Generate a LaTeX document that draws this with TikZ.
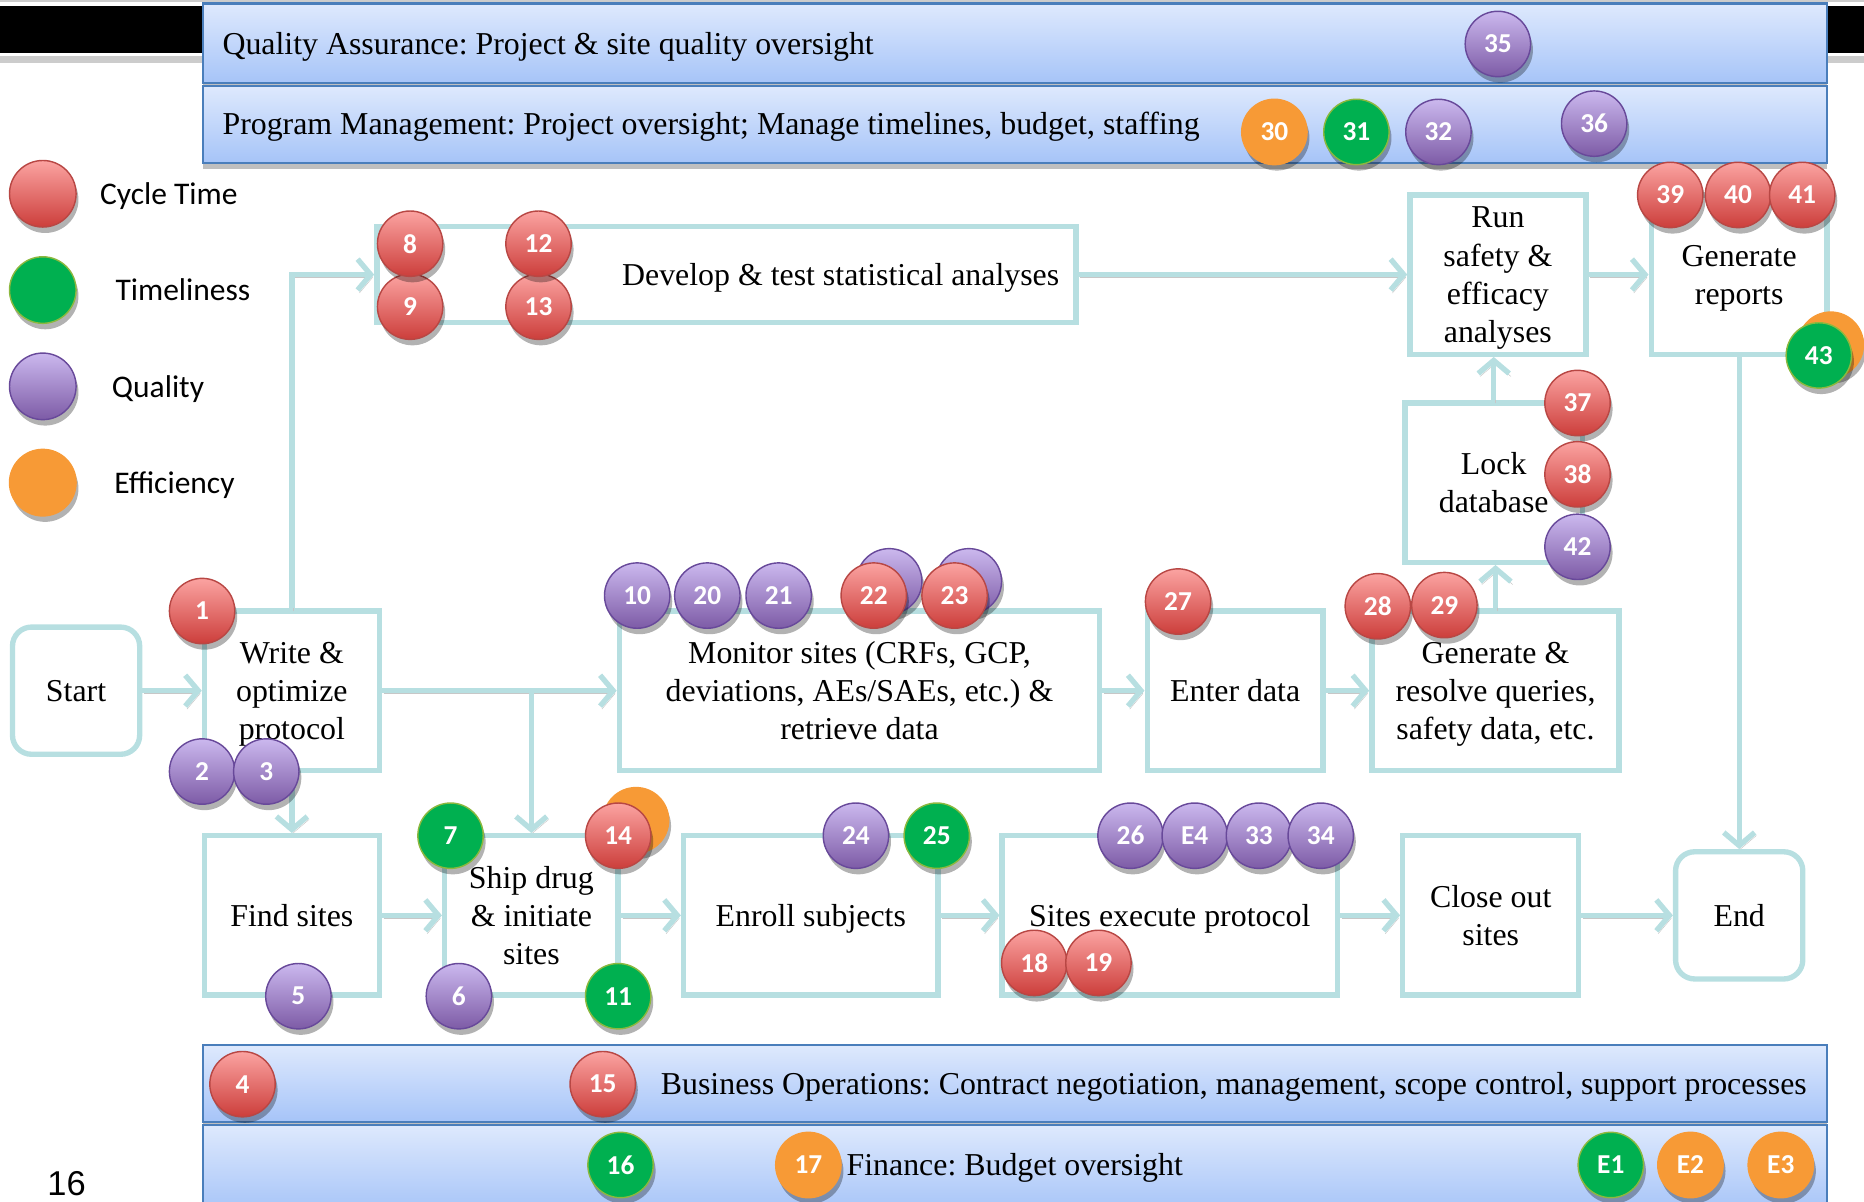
\documentclass[tikz,border=0pt]{standalone}
\usepackage{fontspec}
\setmainfont{Liberation Serif}
\newfontfamily\calibri{Carlito}
\newfontfamily\arial{Liberation Sans}
\usetikzlibrary{arrows.meta,shadows}
\definecolor{boxline}{HTML}{B7DFE1}
\definecolor{bandtop}{HTML}{DEE9FD}
\definecolor{bandbot}{HTML}{A6C4F8}
\definecolor{bandline}{HTML}{4A7EBB}
\definecolor{redtop}{HTML}{FBA3A1}
\definecolor{redbot}{HTML}{CC3E3B}
\definecolor{redline}{HTML}{B84744}
\definecolor{purtop}{HTML}{CBB8EE}
\definecolor{purbot}{HTML}{7D5BA6}
\definecolor{purline}{HTML}{68499A}
\definecolor{grnfill}{HTML}{00B050}
\definecolor{grnline}{HTML}{8CB83E}
\definecolor{orgfill}{HTML}{F79A36}
\frenchspacing

\begin{document}
\begin{tikzpicture}[x=1pt,y=-1pt,
  every node/.style={font=\fontsize{26.8}{32}\selectfont},
  box/.style={draw=boxline, line width=4.5pt, fill=white, align=center, inner sep=2pt, minimum height=134, text depth=-4pt},
  term/.style={box, rounded corners=16pt, minimum width=107, minimum height=107},
  band/.style={draw=bandline, line width=1.8pt, top color=bandtop, bottom color=bandbot, minimum width=1366, inner sep=0pt,
    drop shadow={shadow xshift=0pt, shadow yshift=-5pt, opacity=0.25, fill=black}},
  conn/.style={draw=boxline, line width=4.5pt, -{Straight Barb[length=11pt,width=26pt]},
    preaction={draw=black!22, transform canvas={shift={(1.5pt,-2.5pt)}}}},
  badge/.style={circle, minimum size=55, inner sep=0pt, line width=1.2pt, text=white,
    font=\calibri\bfseries\fontsize{23}{23}\selectfont,
    drop shadow={shadow xshift=2pt, shadow yshift=-5pt, opacity=0.3, fill=black}},
  cycle/.style={badge, draw=redline, top color=redtop, bottom color=redbot},
  qual/.style={badge, draw=purline, top color=purtop, bottom color=purbot},
  timely/.style={badge, draw=grnline, fill=grnfill},
  effic/.style={badge, draw=orgfill, fill=orgfill},
  legend/.style={anchor=west, inner sep=0pt, font=\calibri\fontsize{26.5}{32}\selectfont},
  bandtext/.style={inner sep=0pt}]
   \useasboundingbox (0,0) rectangle (1568,1011);
   \fill[black!20] (0,0) rectangle (1568,2);
   \fill[black] (0,5) rectangle (1568,45);
   \fill[black!20] (0,47) rectangle (1568,53);

   \node[band, minimum height=67] (qa) at (854,36.5) {};
   \node[band, minimum height=65] (pm) at (854,104.5) {};
   \node[band, minimum height=65] (bizops) at (854,911.5) {};
   \node[band, minimum height=74] (finance) at (854,983) {};
   \node[bandtext, anchor=west] (qatxt) at (187,39.5) {Quality Assurance: Project \& site quality oversight};
   \node[bandtext, anchor=west] (pmtxt) at (187,106.5) {Program Management: Project oversight; Manage timelines, budget, staffing};
   \node[bandtext, anchor=east] (bizopstxt) at (1520,914.5) {Business Operations: Contract negotiation, management, scope control, support processes};
   \node[bandtext, anchor=west] (financetxt) at (712,982) {Finance: Budget oversight};

   \node[cycle, minimum size=56] (keycycle) at (36,163) {};
   \node[legend] (keycycletxt) at (84,165) {Cycle Time};
   \node[timely, minimum size=56] (keytimely) at (36,244) {};
   \node[legend] (keytimelytxt) at (97,244) {Timeliness};
   \node[qual, minimum size=56] (keyqual) at (36,325) {};
   \node[legend] (keyqualtxt) at (94,327) {Quality};
   \node[effic, minimum size=56] (keyeffic) at (36,406) {};
   \node[legend] (keyeffictxt) at (96,408) {Efficiency};
   \node[anchor=base, inner sep=0pt, font=\arial\fontsize{29}{29}\selectfont] (pagenum) at (56,1006) {16};

   \node[term] (start) at (64,581) {Start};
   \node[box, minimum width=147] (write) at (245.5,581) {Write \&\\optimize\\protocol};
   \node[box, minimum height=81, text width=560, align=flush right, inner sep=14pt] (develop) at (611,231) {Develop \& test statistical analyses};
   \node[box, minimum width=148] (run) at (1260,231) {Run\\safety \&\\efficacy\\analyses};
   \node[box, minimum width=148] (reports) at (1463,231) {Generate\\reports};
   \node[box, minimum width=149] (lock) at (1256.5,406) {Lock\\database};
   \node[box, minimum width=404] (monitor) at (723,581) {Monitor sites (CRFs, GCP,\\deviations, AEs/SAEs, etc.) \&\\retrieve data};
   \node[box, minimum width=148] (enter) at (1039,581) {Enter data};
   \node[box, minimum width=208] (resolve) at (1258,581) {Generate \&\\resolve queries,\\safety data, etc.};
   \node[box, minimum width=147] (find) at (245.5,770) {Find sites};
   \node[box, minimum width=146] (ship) at (447,770) {Ship drug\\\& initiate\\sites};
   \node[box, minimum width=214] (enroll) at (682,770) {Enroll subjects};
   \node[box, minimum width=282] (execute) at (984,770) {Sites execute protocol};
   \node[box, minimum width=148] (closeout) at (1254,770) {Close out\\sites};
   \node[term] (end) at (1463,770) {End};

   \draw[conn] (start) -- (write);
   \draw[conn] (write) -- (monitor);
   \draw[conn] (write.east -| ship.north) -- (ship.north);
   \draw[conn] (write) -- (find);
   \draw[conn] (write.north) |- (develop.west);
   \draw[conn] (find) -- (ship);
   \draw[conn] (ship) -- (enroll);
   \draw[conn] (enroll) -- (execute);
   \draw[conn] (execute) -- (closeout);
   \draw[conn] (closeout) -- (end);
   \draw[conn] (monitor) -- (enter);
   \draw[conn] (enter) -- (resolve);
   \draw[conn] (resolve.north) -- (resolve.north |- lock.south);
   \draw[conn] (lock.north) -- (lock.north |- run.south);
   \draw[conn] (develop) -- (run);
   \draw[conn] (run) -- (reports);
   \draw[conn] (reports) -- (end);

   \node[effic] (b14x) at (535,690) {};
   \node[qual] (b22x) at (748,489) {};
   \node[qual] (b23x) at (815,489) {};
   \node[effic] (b43x) at (1540,290) {};

   \node[cycle] (b1) at (170,514) {1};
   \node[qual] (b2) at (170,649) {2};
   \node[qual] (b3) at (224,649) {3};
   \node[cycle] (b4) at (204,912) {4};
   \node[qual] (b5) at (251,838) {5};
   \node[qual] (b6) at (386,838) {6};
   \node[timely] (b7) at (379,703) {7};
   \node[cycle] (b9) at (345,258) {9};
   \node[cycle] (b13) at (453,258) {13};
   \node[cycle] (b8) at (345,205) {8};
   \node[cycle] (b12) at (453,205) {12};
   \node[qual] (b10) at (536,501) {10};
   \node[timely] (b11) at (520,838) {11};
   \node[cycle] (b14) at (520,703) {14};
   \node[cycle] (b15) at (507,912) {15};
   \node[timely] (b16) at (522,980) {16};
   \node[effic] (b17) at (680,980) {17};
   \node[cycle] (b18) at (870,810) {18};
   \node[cycle] (b19) at (924,810) {19};
   \node[qual] (b20) at (595,501) {20};
   \node[qual] (b21) at (655,501) {21};
   \node[cycle] (b22) at (735,501) {22};
   \node[cycle] (b23) at (803,501) {23};
   \node[qual] (b24) at (720,703) {24};
   \node[timely] (b25) at (788,703) {25};
   \node[qual] (b26) at (951,703) {26};
   \node[qual] (be4) at (1005,703) {E4};
   \node[qual] (b33) at (1059,703) {33};
   \node[qual] (b34) at (1111,703) {34};
   \node[cycle] (b27) at (991,506) {27};
   \node[cycle] (b28) at (1159,510) {28};
   \node[cycle] (b29) at (1215,509) {29};
   \node[effic] (b30) at (1072,111) {30};
   \node[timely] (b31) at (1141,111) {31};
   \node[qual] (b32) at (1210,111) {32};
   \node[qual] (b35) at (1260,37) {35};
   \node[qual] (b36) at (1341,104) {36};
   \node[cycle] (b37) at (1327,339) {37};
   \node[cycle] (b38) at (1327,399) {38};
   \node[qual] (b42) at (1327,460) {42};
   \node[cycle] (b39) at (1405,164) {39};
   \node[cycle] (b40) at (1462,164) {40};
   \node[cycle] (b41) at (1516,164) {41};
   \node[timely] (b43) at (1530,299) {43};
   \node[timely] (be1) at (1355,980) {E1};
   \node[effic] (be2) at (1422,980) {E2};
   \node[effic] (be3) at (1498,980) {E3};
\end{tikzpicture}
\end{document}
